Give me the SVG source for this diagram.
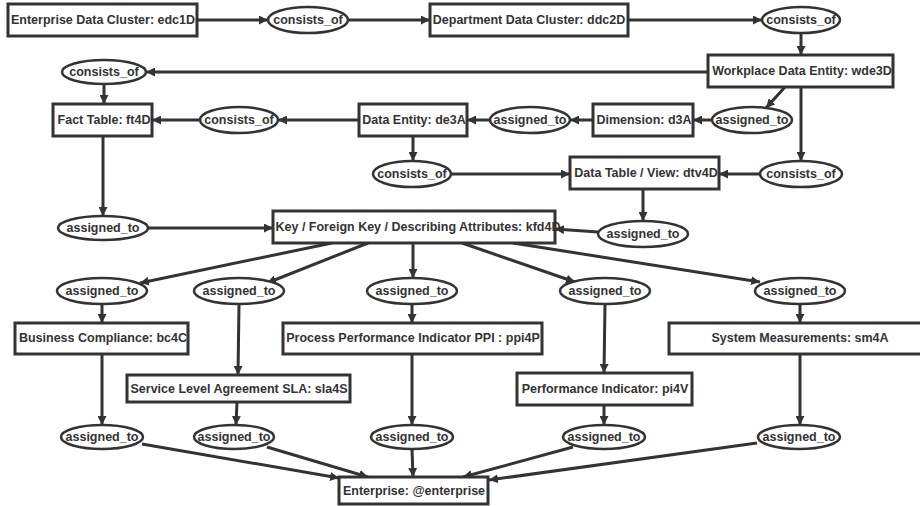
<svg xmlns="http://www.w3.org/2000/svg" width="920" height="506" viewBox="0 0 920 506">
<defs>
<style>
.n rect{fill:#fff;stroke:#333;stroke-width:3}
.e ellipse{fill:#fff;stroke:#333;stroke-width:2.5}
text{font-family:"Liberation Sans",Arial,sans-serif;font-weight:bold;font-size:12.5px;fill:#333;text-anchor:middle;dominant-baseline:central}
#edges line{stroke:#333;stroke-width:3;marker-end:url(#ah)}
</style>
<marker id="ah" viewBox="0 0 10 10" refX="10" refY="5" markerWidth="9" markerHeight="9" markerUnits="userSpaceOnUse" orient="auto">
<path d="M0,0 L10,5 L0,10 z" fill="#333"/>
</marker>
</defs>
<rect width="920" height="506" fill="#fff"/>
<g id="edges">
<line x1="197" y1="20" x2="268" y2="20"/>
<line x1="348" y1="20" x2="430" y2="20"/>
<line x1="628" y1="20" x2="762" y2="20"/>
<line x1="801" y1="33" x2="801" y2="55"/>
<line x1="708" y1="72" x2="146" y2="72"/>
<line x1="104" y1="84" x2="104" y2="104"/>
<line x1="359" y1="120" x2="278" y2="120"/>
<line x1="200" y1="120" x2="152" y2="120"/>
<line x1="593" y1="120" x2="570" y2="120"/>
<line x1="490" y1="120" x2="467" y2="120"/>
<line x1="785" y1="87" x2="766" y2="108"/>
<line x1="712" y1="120" x2="693" y2="120"/>
<line x1="801" y1="87" x2="801" y2="161"/>
<line x1="760" y1="174" x2="719" y2="174"/>
<line x1="413" y1="136" x2="413" y2="161"/>
<line x1="451" y1="174" x2="570" y2="174"/>
<line x1="643" y1="189" x2="643" y2="221"/>
<line x1="598" y1="232" x2="555" y2="229"/>
<line x1="103" y1="136" x2="103" y2="216"/>
<line x1="148" y1="228" x2="273" y2="228"/>
<line x1="332" y1="243" x2="140" y2="283"/>
<line x1="368" y1="243" x2="267" y2="283"/>
<line x1="413" y1="243" x2="413" y2="278"/>
<line x1="462" y1="243" x2="575" y2="282"/>
<line x1="513" y1="243" x2="760" y2="282"/>
<line x1="102" y1="304" x2="102" y2="323"/>
<line x1="239" y1="304" x2="238" y2="375"/>
<line x1="412" y1="304" x2="412" y2="323"/>
<line x1="605" y1="304" x2="604" y2="373"/>
<line x1="800" y1="304" x2="800" y2="323"/>
<line x1="102" y1="354" x2="102" y2="425"/>
<line x1="237" y1="402" x2="236" y2="425"/>
<line x1="412" y1="354" x2="412" y2="425"/>
<line x1="604" y1="405" x2="604" y2="425"/>
<line x1="800" y1="354" x2="800" y2="425"/>
<line x1="142" y1="444" x2="339" y2="478"/>
<line x1="267" y1="447" x2="368" y2="477"/>
<line x1="412" y1="449" x2="413" y2="477"/>
<line x1="573" y1="447" x2="463" y2="477"/>
<line x1="757" y1="443" x2="489" y2="480"/>
</g>
<g id="edc" class="n"><rect x="8" y="4" width="189" height="32"/><text x="103" y="20">Enterprise Data Cluster: edc1D</text></g>
<g id="ddc" class="n"><rect x="430" y="4" width="198" height="32"/><text x="529" y="20">Department Data Cluster: ddc2D</text></g>
<g id="wde" class="n"><rect x="708" y="55" width="185" height="32"/><text x="802" y="71">Workplace Data Entity: wde3D</text></g>
<g id="ft" class="n"><rect x="53" y="104" width="99" height="32"/><text x="104" y="120">Fact Table: ft4D</text></g>
<g id="de" class="n"><rect x="359" y="104" width="108" height="32"/><text x="414" y="120">Data Entity: de3A</text></g>
<g id="dim" class="n"><rect x="593" y="104" width="100" height="32"/><text x="644" y="120">Dimension: d3A</text></g>
<g id="dtv" class="n"><rect x="570" y="157" width="149" height="32"/><text x="646" y="173">Data Table / View: dtv4D</text></g>
<g id="kfd" class="n"><rect x="273" y="211" width="282" height="32"/><text x="418" y="227">Key / Foreign Key / Describing Attributes: kfd4D</text></g>
<g id="bc" class="n"><rect x="15" y="323" width="173" height="31"/><text x="103" y="338">Business Compliance: bc4C</text></g>
<g id="ppi" class="n"><rect x="283" y="323" width="259" height="31"/><text x="413" y="338">Process Performance Indicator PPI : ppi4P</text></g>
<g id="sm" class="n"><rect x="669" y="323" width="262" height="31"/><text x="800" y="338">System Measurements: sm4A</text></g>
<g id="sla" class="n"><rect x="127" y="375" width="223" height="27"/><text x="239" y="389">Service Level Agreement SLA: sla4S</text></g>
<g id="pi" class="n"><rect x="517" y="373" width="175" height="32"/><text x="605" y="389">Performance Indicator: pi4V</text></g>
<g id="ent" class="n"><rect x="339" y="477" width="149" height="27"/><text x="414" y="491">Enterprise: @enterprise</text></g>
<g id="c1" class="e"><ellipse cx="308" cy="20" rx="40" ry="13"/><text x="308" y="20">consists_of</text></g>
<g id="c2" class="e"><ellipse cx="801" cy="20" rx="39" ry="13"/><text x="801" y="20">consists_of</text></g>
<g id="c3" class="e"><ellipse cx="104" cy="72" rx="42" ry="12"/><text x="104" y="72">consists_of</text></g>
<g id="c4" class="e"><ellipse cx="239" cy="120" rx="39" ry="13"/><text x="239" y="120">consists_of</text></g>
<g id="a1" class="e"><ellipse cx="530" cy="120" rx="40" ry="13"/><text x="530" y="120">assigned_to</text></g>
<g id="a2" class="e"><ellipse cx="752" cy="120" rx="40" ry="13"/><text x="752" y="120">assigned_to</text></g>
<g id="c5" class="e"><ellipse cx="801" cy="174" rx="41" ry="13"/><text x="801" y="174">consists_of</text></g>
<g id="c6" class="e"><ellipse cx="412" cy="174" rx="39" ry="13"/><text x="412" y="174">consists_of</text></g>
<g id="a3" class="e"><ellipse cx="643" cy="234" rx="45" ry="13"/><text x="643" y="234">assigned_to</text></g>
<g id="a4" class="e"><ellipse cx="103" cy="228" rx="45" ry="12"/><text x="103" y="228">assigned_to</text></g>
<g id="r1a" class="e"><ellipse cx="102" cy="291" rx="45" ry="13"/><text x="102" y="291">assigned_to</text></g>
<g id="r1b" class="e"><ellipse cx="239" cy="291" rx="45" ry="13"/><text x="239" y="291">assigned_to</text></g>
<g id="r1c" class="e"><ellipse cx="412" cy="291" rx="45" ry="13"/><text x="412" y="291">assigned_to</text></g>
<g id="r1d" class="e"><ellipse cx="605" cy="291" rx="45" ry="13"/><text x="605" y="291">assigned_to</text></g>
<g id="r1e" class="e"><ellipse cx="800" cy="291" rx="45" ry="13"/><text x="800" y="291">assigned_to</text></g>
<g id="r3a" class="e"><ellipse cx="102" cy="437" rx="41" ry="12"/><text x="102" y="437">assigned_to</text></g>
<g id="r3b" class="e"><ellipse cx="234" cy="437" rx="40" ry="12"/><text x="234" y="437">assigned_to</text></g>
<g id="r3c" class="e"><ellipse cx="412" cy="437" rx="41" ry="12"/><text x="412" y="437">assigned_to</text></g>
<g id="r3d" class="e"><ellipse cx="604" cy="437" rx="41" ry="12"/><text x="604" y="437">assigned_to</text></g>
<g id="r3e" class="e"><ellipse cx="799" cy="437" rx="41" ry="12"/><text x="799" y="437">assigned_to</text></g>
</svg>
